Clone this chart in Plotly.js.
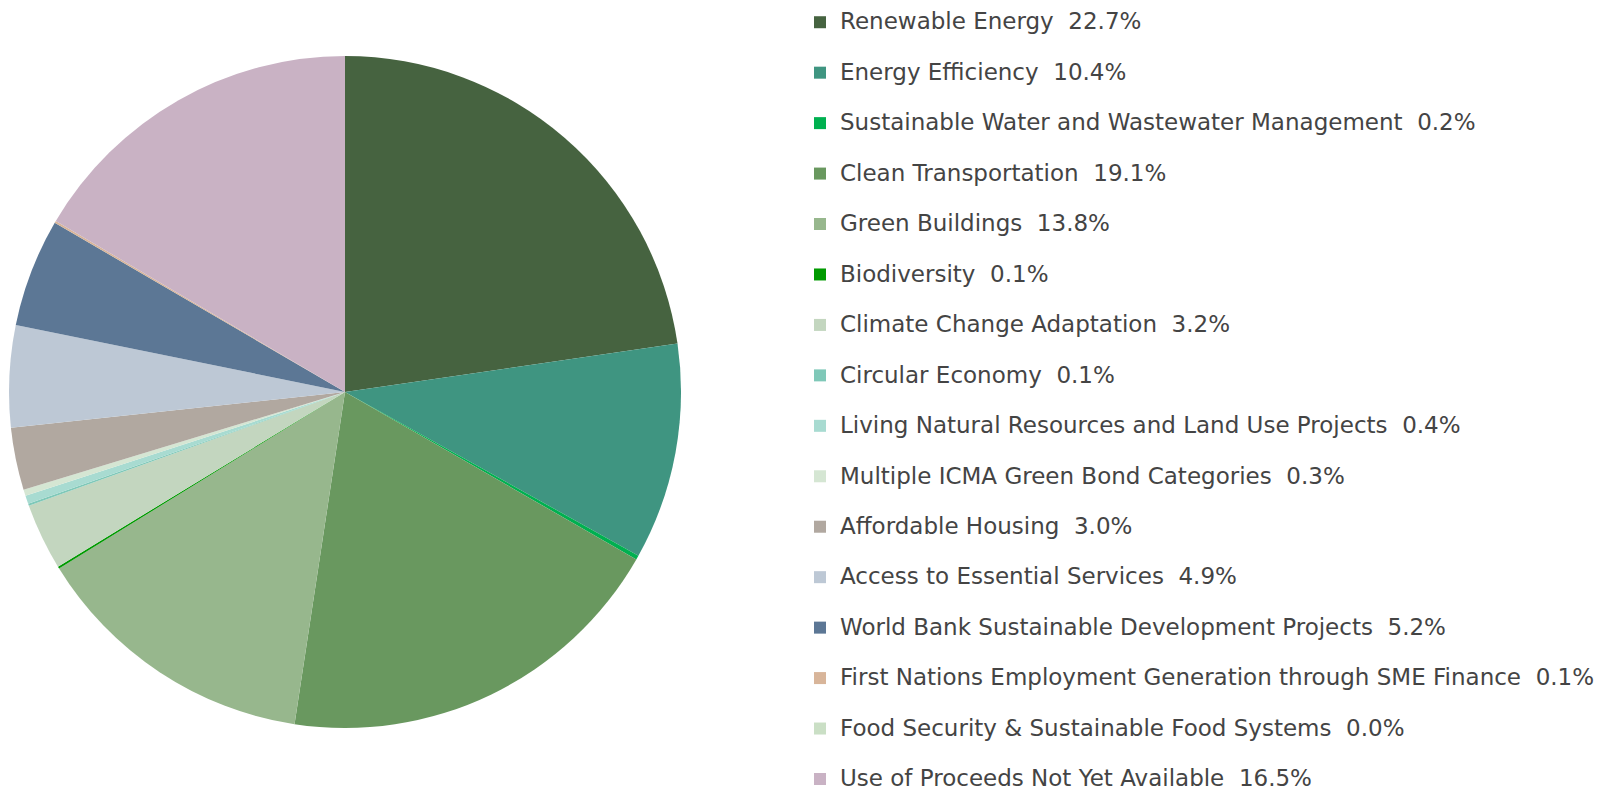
<!DOCTYPE html>
<html>
<head>
<meta charset="utf-8">
<script src="https://cdn.plot.ly/plotly-3.0.1.min.js"></script>
<style>
html,body{margin:0;padding:0;background:#fff;width:1600px;height:790px;overflow:hidden;}
#chart{width:1600px;height:816px;margin-top:-8px;}
</style>
</head>
<body>
<div id="chart"></div>
<script>
const categories = [
  "Renewable Energy",
  "Energy Efficiency",
  "Sustainable Water and Wastewater Management",
  "Clean Transportation",
  "Green Buildings",
  "Biodiversity",
  "Climate Change Adaptation",
  "Circular Economy",
  "Living Natural Resources and Land Use Projects",
  "Multiple ICMA Green Bond Categories",
  "Affordable Housing",
  "Access to Essential Services",
  "World Bank Sustainable Development Projects",
  "First Nations Employment Generation through SME Finance",
  "Food Security & Sustainable Food Systems",
  "Use of Proceeds Not Yet Available"
];
const shares = [22.7, 10.4, 0.2, 19.1, 13.8, 0.1, 3.2, 0.1, 0.4, 0.3, 3.0, 4.9, 5.2, 0.1, 0.0, 16.5];
const colors = ["#466340","#3f9581","#00b050","#69985f","#97b78d","#009a00","#c3d6bf","#7fc8b8",
                "#a8dbd1","#d5e6d3","#b1a8a0","#bdc8d5","#5c7795","#d8b59a","#cadfc5","#c9b2c4"];

const labels = categories.map((c, i) =>
  '<span style="font-size:23px;baseline-shift:7px">' + c + '\u00a0\u00a0' + shares[i].toFixed(1) + '%</span>');

const trace = {
  type: 'pie',
  labels: labels,
  values: shares,
  sort: false,
  direction: 'clockwise',
  rotation: 0,
  textinfo: 'none',
  hoverinfo: 'label+percent',
  marker: {colors: colors, line: {width: 0}},
  domain: {x: [0.005625, 0.425625], y: [0.09804, 0.92157]}
};

const layout = {
  width: 1600,
  height: 816,
  margin: {l: 0, r: 0, t: 0, b: 0, autoexpand: false},
  paper_bgcolor: '#ffffff',
  showlegend: true,
  font: {family: 'DejaVu Sans, Liberation Sans, sans-serif', color: '#444444'},
  legend: {
    x: 0.5, xanchor: 'left',
    y: 1, yanchor: 'top',
    font: {size: 36.5, color: '#444444'},
    itemclick: false, itemdoubleclick: false,
    bgcolor: 'rgba(0,0,0,0)'
  }
};

Plotly.newPlot('chart', [trace], layout, {displayModeBar: false, staticPlot: true});
</script>
</body>
</html>
